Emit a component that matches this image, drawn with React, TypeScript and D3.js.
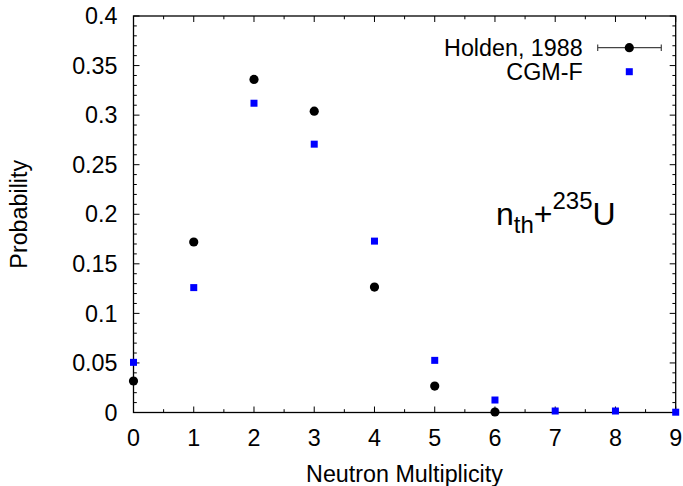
import React from "react";
import * as d3 from "d3";

const multiplicity = [0, 1, 2, 3, 4, 5, 6, 7, 8, 9];
const holdenX = [0, 1, 2, 3, 4, 5, 6];
const holdenP = [0.0318, 0.172, 0.336, 0.304, 0.1265, 0.0267, 0.0005];
const cgmfX = [0, 1, 2, 3, 4, 5, 6, 7, 8, 9];
const cgmfP = [0.0506, 0.126, 0.312, 0.2707, 0.1729, 0.0526, 0.0126, 0.0015, 0.0015, 0.0003];
const yTicks = [0, 0.05, 0.1, 0.15, 0.2, 0.25, 0.3, 0.35, 0.4];
const yTickLabels = ["0", "0.05", "0.1", "0.15", "0.2", "0.25", "0.3", "0.35", "0.4"];
const xMinor = [0.5, 1.5, 2.5, 3.5, 4.5, 5.5, 6.5, 7.5, 8.5];
const legendLabels = ["Holden, 1988", "CGM-F"];

const W = 683, H = 486;
const L = 133.5, R = 675.7, T = 16, B = 412.5;
const FONT = "'Liberation Sans', Arial, Helvetica, sans-serif";
const FS = 23.3;

export default function App() {
  const x = d3.scaleLinear().domain([0, 9]).range([L, R]);
  const y = d3.scaleLinear().domain([0, 0.4]).range([B, T]);
  const yMinor = d3.range(0, 41).map((i) => i / 100).filter((v) => Math.round(v * 100) % 5 !== 0);
  const ax = "#000";
  const majLen = 6, minLen = 3.3;
  return (
    <svg width={W} height={H} style={{ position: "absolute", left: 0, top: 0, background: "#fff" }} fontFamily={FONT}>
      <rect x={0} y={0} width={W} height={H} fill="#fff" />
      {/* ticks */}
      <g stroke={ax} strokeWidth={1}>
        {yTicks.map((v, i) => (
          <g key={"ym" + i}>
            <line x1={L} x2={L + majLen} y1={y(v)} y2={y(v)} />
            <line x1={R} x2={R - majLen} y1={y(v)} y2={y(v)} />
          </g>
        ))}
        {yMinor.map((v, i) => (
          <g key={"yn" + i}>
            <line x1={L} x2={L + minLen} y1={y(v)} y2={y(v)} />
            <line x1={R} x2={R - minLen} y1={y(v)} y2={y(v)} />
          </g>
        ))}
        {multiplicity.map((v, i) => (
          <g key={"xm" + i}>
            <line x1={x(v)} x2={x(v)} y1={B} y2={B - majLen} />
            <line x1={x(v)} x2={x(v)} y1={T} y2={T + majLen} />
          </g>
        ))}
        {xMinor.map((v, i) => (
          <g key={"xn" + i}>
            <line x1={x(v)} x2={x(v)} y1={B} y2={B - minLen} />
            <line x1={x(v)} x2={x(v)} y1={T} y2={T + minLen} />
          </g>
        ))}
      </g>
      <rect x={L} y={T} width={R - L} height={B - T} fill="none" stroke={ax} strokeWidth={1.3} />
      {/* tick labels */}
      <g fontSize={FS} fill="#000">
        {yTicks.map((v, i) => (
          <text key={"yl" + i} x={117.5} y={y(v) + 8.2} textAnchor="end">{yTickLabels[i]}</text>
        ))}
        {multiplicity.map((v, i) => (
          <text key={"xl" + i} x={x(v)} y={445.5} textAnchor="middle">{String(v)}</text>
        ))}
        <text x={404.5} y={481.5} textAnchor="middle">Neutron Multiplicity</text>
        <text transform={`translate(26.7,${(T + B) / 2}) rotate(-90)`} textAnchor="middle">Probability</text>
      </g>
      {/* data */}
      <g>
        {holdenX.map((v, i) => (
          <circle key={"h" + i} cx={x(v)} cy={y(holdenP[i])} r={4.6} fill="#000" />
        ))}
        {cgmfX.map((v, i) => (
          <rect key={"c" + i} x={x(v) - 3.5} y={y(cgmfP[i]) - 3.5} width={7} height={7} fill="#0000ff" />
        ))}
      </g>
      {/* legend */}
      <g fontSize={FS} fill="#000">
        <text x={582.7} y={55.8} textAnchor="end">{legendLabels[0]}</text>
        <text x={582.7} y={80.2} textAnchor="end">{legendLabels[1]}</text>
        <g stroke="#444" strokeWidth={1.2}>
          <line x1={597.7} x2={661.3} y1={47.7} y2={47.7} />
          <line x1={597.7} x2={597.7} y1={44.5} y2={51} />
          <line x1={661.3} x2={661.3} y1={44.5} y2={51} />
        </g>
        <circle cx={629.3} cy={47.7} r={4.6} fill="#000" />
        <rect x={629.3 - 3.5} y={71.7 - 3.5} width={7} height={7} fill="#0000ff" />
      </g>
      {/* annotation */}
      <text x={496} y={225} fontSize={32} fill="#000">
        <tspan>n</tspan>
        <tspan fontSize={24} dy={7.5}>th</tspan>
        <tspan dy={-7.5}>+</tspan>
        <tspan fontSize={24} dy={-16}>235</tspan>
        <tspan dy={16}>U</tspan>
      </text>
    </svg>
  );
}
